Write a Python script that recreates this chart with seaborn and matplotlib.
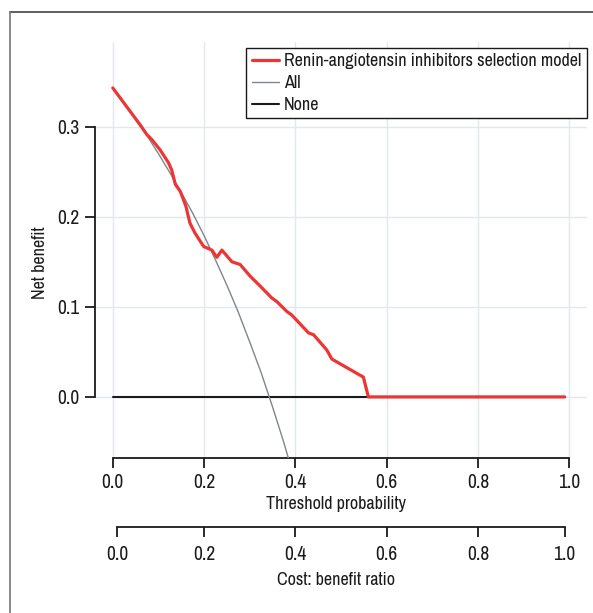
import matplotlib
matplotlib.use("Agg")
import matplotlib.pyplot as plt
from matplotlib.lines import Line2D
from matplotlib import font_manager as fm
import seaborn as sns
import pandas as pd

# ---- data ----
thr_model = [0.0, 0.06, 0.075, 0.085, 0.104, 0.122, 0.129, 0.137, 0.148, 0.160,
             0.169, 0.18, 0.199, 0.217, 0.228, 0.239, 0.261, 0.279, 0.301, 0.323,
             0.348, 0.359, 0.381, 0.392, 0.429, 0.44, 0.469, 0.48, 0.549, 0.56, 0.99]
nb_model = [0.343, 0.302, 0.291, 0.286, 0.274, 0.260, 0.252, 0.236, 0.228, 0.212,
            0.193, 0.182, 0.167, 0.163, 0.155, 0.163, 0.150, 0.147, 0.134, 0.123,
            0.110, 0.106, 0.095, 0.091, 0.071, 0.069, 0.052, 0.042, 0.022, 0.0, 0.0]

thr_all = [0.0, 0.025, 0.05, 0.075, 0.10, 0.125, 0.15, 0.175, 0.20, 0.225, 0.25,
           0.275, 0.30, 0.325, 0.35, 0.375, 0.40]
nb_all = [0.343, 0.326, 0.308, 0.290, 0.270, 0.249, 0.227, 0.204, 0.179, 0.152,
          0.124, 0.094, 0.061, 0.027, -0.011, -0.051, -0.095]

thr_none = [0.0, 0.99]
nb_none = [0.0, 0.0]

x_ticks = [0.0, 0.2, 0.4, 0.6, 0.8, 1.0]
x_ticklabels = ["0.0", "0.2", "0.4", "0.6", "0.8", "1.0"]
y_ticks = [0.0, 0.1, 0.2, 0.3]
y_ticklabels = ["0.0", "0.1", "0.2", "0.3"]
cb_ticks = [0.01, 0.2, 0.4, 0.6, 0.8, 0.99]
cb_ticklabels = ["0.0", "0.2", "0.4", "0.6", "0.8", "1.0"]

labels = ["Renin-angiotensin inhibitors selection model", "All", "None"]

# ---- style ----
sns.set_theme(style="white")

# look for a condensed face (the reference uses a condensed sans)
entries = fm.fontManager.ttflist
names = {f.name for f in entries}
cond_names = sorted(n for n in names if ("Narrow" in n or "Condensed" in n))
stretch_cond = sorted({f.name for f in entries
                       if str(f.stretch) in ("condensed", "semi-condensed",
                                             "extra-condensed", "ultra-condensed")
                       or (isinstance(f.stretch, (int, float)) and f.stretch < 500)})
stretch = "normal"
if cond_names:
    fam = [cond_names[0], "DejaVu Sans"]
    FS = 13
elif stretch_cond:
    fam = [stretch_cond[0], "DejaVu Sans"]
    stretch = "condensed"
    FS = 13
else:
    fam = ["Roboto", "DejaVu Sans"]
    FS = 11.5
plt.rcParams["font.family"] = fam
plt.rcParams["font.stretch"] = stretch
TFS = FS + 1.0

W, H = 593, 613

fig = plt.figure(figsize=(W / 100, H / 100), dpi=100)
fig.patch.set_facecolor("white")

left, right, top, bottom = 95, 587, 42, 458
ax = fig.add_axes([left / W, 1 - bottom / H, (right - left) / W, (bottom - top) / H])
ax.set_facecolor("white")

# grid
for xv in x_ticks:
    ax.axvline(xv, color="#e3e8ec", lw=1.0, zorder=0)
for yv in y_ticks:
    ax.axhline(yv, color="#e3e8ec", lw=1.0, zorder=0)

df_m = pd.DataFrame({"thr": thr_model, "nb": nb_model})
df_a = pd.DataFrame({"thr": thr_all, "nb": nb_all})
df_n = pd.DataFrame({"thr": thr_none, "nb": nb_none})

sns.lineplot(data=df_m, x="thr", y="nb", ax=ax, color="#ee3535", linewidth=2.3,
             label=labels[0], zorder=4)
sns.lineplot(data=df_a, x="thr", y="nb", ax=ax, color="#7f868c", linewidth=1.0,
             label=labels[1], zorder=3)
sns.lineplot(data=df_n, x="thr", y="nb", ax=ax, color="#1a1a1a", linewidth=1.5,
             label=labels[2], zorder=2)

ax.set_xlim(-0.039, 1.039)
ax.set_ylim(-0.0678, 0.394)

for s in ["top", "right"]:
    ax.spines[s].set_visible(False)
ax.spines["left"].set_bounds(0.0, 0.3)
ax.spines["bottom"].set_bounds(0.0, 1.0)
for s in ["left", "bottom"]:
    ax.spines[s].set_color("#1a1a1a")
    ax.spines[s].set_linewidth(1.3)

ax.set_xticks(x_ticks)
ax.set_xticklabels(x_ticklabels)
ax.set_yticks(y_ticks)
ax.set_yticklabels(y_ticklabels)
ax.tick_params(axis="both", direction="out", length=7, width=1.3, color="#1a1a1a",
               labelsize=TFS, labelcolor="#1a1a1a", pad=4, bottom=True, left=True)
ax.set_xlabel("")
ax.set_ylabel("")

leg = ax.legend(loc="upper right", bbox_to_anchor=(587 / W, 1 - 48 / H),
                bbox_transform=fig.transFigure, borderaxespad=0, frameon=True,
                fancybox=False, edgecolor="#1a1a1a", framealpha=1, fontsize=FS,
                handlelength=1.5, handletextpad=0.3, labelspacing=0.32,
                borderpad=0.3)
leg.get_frame().set_linewidth(1.0)
for t in leg.get_texts():
    t.set_color("#1a1a1a")

# second axis: cost:benefit ratio
cb_y = 527.3
ax2 = fig.add_axes([left / W, 1 - cb_y / H, (right - left) / W, 0.001])
ax2.set_xlim(-0.039, 1.039)
ax2.patch.set_alpha(0)
for s in ["top", "right", "left"]:
    ax2.spines[s].set_visible(False)
ax2.spines["bottom"].set_bounds(0.01, 0.99)
ax2.spines["bottom"].set_color("#1a1a1a")
ax2.spines["bottom"].set_linewidth(1.3)
ax2.set_yticks([])
ax2.set_xticks(cb_ticks)
ax2.set_xticklabels(cb_ticklabels)
ax2.tick_params(axis="x", direction="out", length=7, width=1.3, color="#1a1a1a",
                labelsize=TFS, labelcolor="#1a1a1a", pad=6, bottom=True)
ax2.grid(False)

# axis titles
fig.text(336 / W, 1 - 504 / H, "Threshold probability", ha="center", va="center",
         fontsize=FS, color="#1a1a1a")
fig.text(336 / W, 1 - 580 / H, "Cost: benefit ratio", ha="center", va="center",
         fontsize=FS, color="#1a1a1a")
fig.text(40 / W, 1 - 263 / H, "Net benefit", ha="center", va="center",
         rotation=90, fontsize=FS, color="#1a1a1a")

# figure border (top and left)
fig.add_artist(Line2D([9.5 / W, 1.0], [1 - 12 / H, 1 - 12 / H],
                      transform=fig.transFigure, color="#444444", lw=1.2))
fig.add_artist(Line2D([9.5 / W, 9.5 / W], [0.0, 1 - 12 / H],
                      transform=fig.transFigure, color="#777777", lw=1.2))

fig.savefig("out.png", dpi=100)
